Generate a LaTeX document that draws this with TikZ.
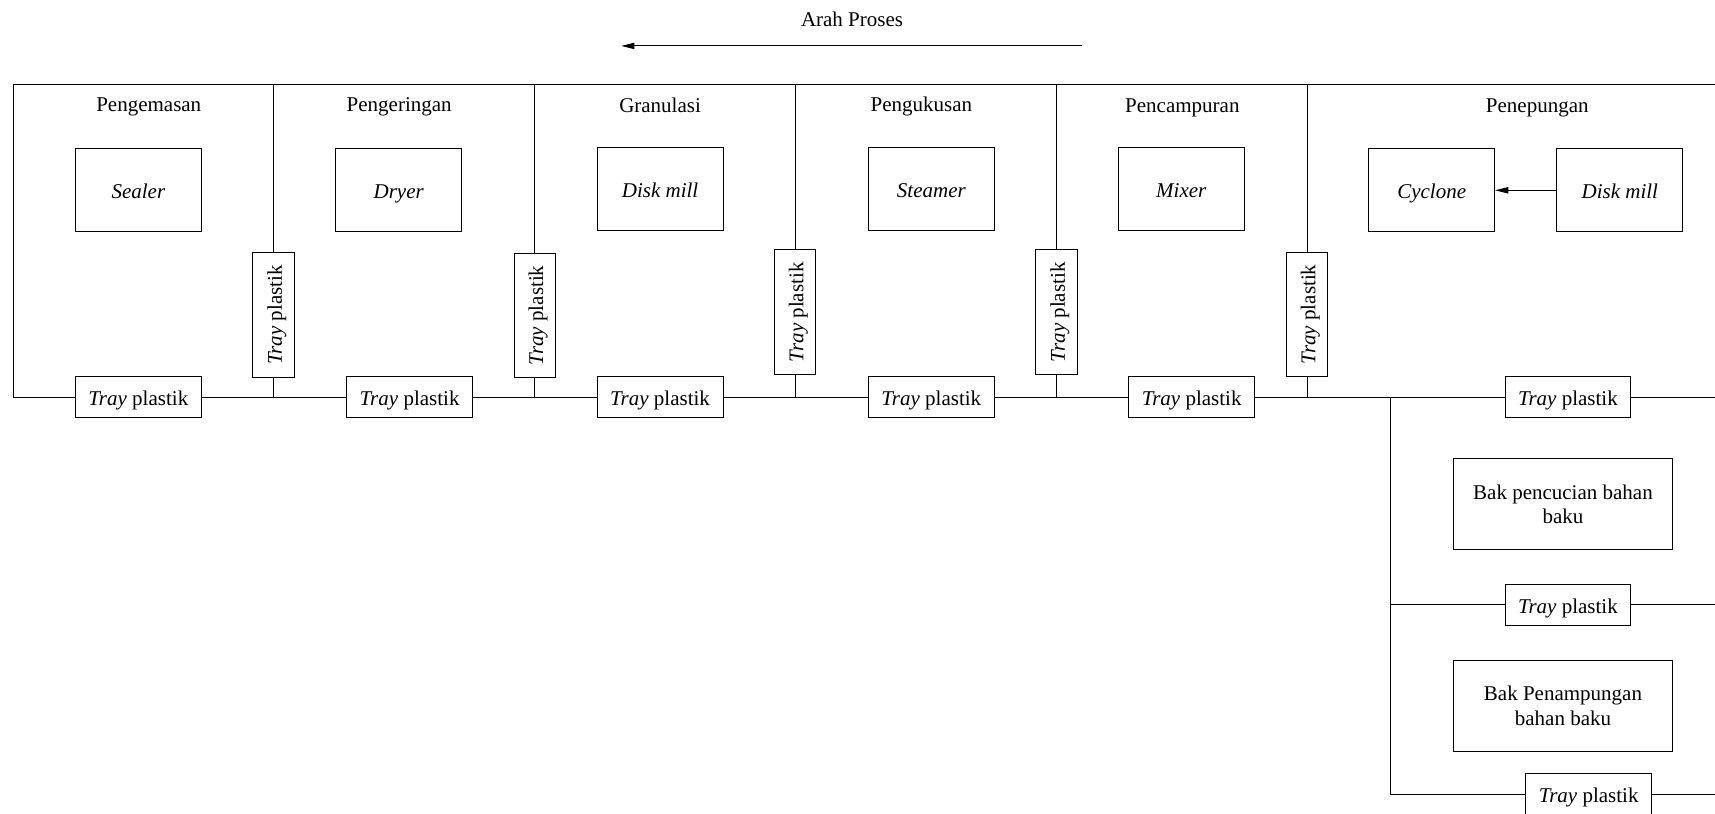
\documentclass[tikz,border=0pt]{standalone}
\usepackage{fontspec}
\setmainfont{Liberation Serif}
\usetikzlibrary{arrows.meta}

\tikzset{
  every node/.style={font=\fontsize{12pt}{14pt}\selectfont},
  equip/.style={draw,minimum width=71.9pt,minimum height=47.5pt,inner sep=0pt,text height=9.5pt,text depth=0pt,font=\fontsize{12pt}{14pt}\selectfont\itshape},
  traybox/.style={draw,minimum width=71.9pt,minimum height=23.75pt,inner sep=0pt,text height=9.5pt,text depth=0pt},
  traybar/.style={traybox,minimum width=71.25pt,rotate=90},
  bakbox/.style={draw,minimum width=125.6pt,minimum height=52pt,inner sep=0pt,align=center},
  roomlabel/.style={inner sep=0pt,anchor=base},
  tip/.style={-{Triangle[length=7.5pt,width=3.6pt]}}
}
\newcommand{\tray}{\textit{Tray} plastik}

\begin{document}
\begin{tikzpicture}[x=0.625pt,y=-0.625pt,line width=0.55pt]
\useasboundingbox (0,0) rectangle (1568,744);
\clip (0,0) rectangle (1568,744);

% arah proses
\node[inner sep=0pt] (arah) at (779,18) {Arah Proses};
\coordinate (arahR) at (989,42);
\coordinate (arahL) at (568,42);
\draw[tip] (arahR) -- (arahL);

% ruangan
\node[roomlabel] (lkemas) at (136,101.5) {Pengemasan};
\node[roomlabel] (lkering) at (365,101.5) {Pengeringan};
\node[roomlabel] (lgranul) at (603.5,102.5) {Granulasi};
\node[roomlabel] (lkukus) at (842.5,101.5) {Pengukusan};
\node[roomlabel] (lcampur) at (1081,102.5) {Pencampuran};
\node[roomlabel] (ltepung) at (1405.5,102.5) {Penepungan};

% alat
\node[equip] (sealer) at (126.5,174) {Sealer};
\node[equip] (dryer) at (364.5,174) {Dryer};
\node[equip] (dmillA) at (603.5,173) {Disk mill};
\node[equip] (steamer) at (851.5,173) {Steamer};
\node[equip] (mixer) at (1080,173) {Mixer};
\node[equip] (cyclone) at (1309,174) {Cyclone};
\node[equip] (dmillB) at (1481,174) {Disk mill};
\draw[tip] (dmillB) -- (cyclone);

\node[bakbox] (bakcuci) at (1429,461) {Bak pencucian bahan\\baku};
\node[bakbox] (baktampung) at (1429,645.5) {Bak Penampungan\\bahan baku};

% tray
\node[traybox] (tp1) at (126.5,363) {\tray};
\node[traybox] (tp2) at (374.5,363) {\tray};
\node[traybox] (tp3) at (603.5,363) {\tray};
\node[traybox] (tp4) at (851.5,363) {\tray};
\node[traybox] (tp5) at (1089.5,363) {\tray};
\node[traybox] (tp6) at (1433.5,363) {\tray};
\node[traybox] (tp7) at (1433.5,553) {\tray};
\node[traybox] (tp8) at (1452.5,726) {\tray};

\node[traybar] (vt1) at (250,288) {\tray};
\node[traybar] (vt2) at (489,288.5) {\tray};
\node[traybar] (vt3) at (727,285.5) {\tray};
\node[traybar] (vt4) at (966,285.5) {\tray};
\node[traybar] (vt5) at (1195,287.5) {\tray};

% dinding
\coordinate (kiriatas) at (12,77);
\coordinate (kananatas) at (1568,77);
\draw (kananatas) -- (kiriatas) |- (tp1.west);
\foreach \i/\x in {1/250,2/489,3/727,4/966,5/1195} {
  \coordinate (atas\i) at (\x,77);
  \coordinate (bawah\i) at (\x,363);
  \draw (atas\i) -- (vt\i) -- (bawah\i);
}

% jalur tray
\draw (tp1) -- (tp2) -- (tp3) -- (tp4) -- (tp5) -- (tp6);
\coordinate (kanan1) at (1568,363);
\coordinate (kanan2) at (1568,553);
\coordinate (kanan3) at (1568,726);
\coordinate (cabang) at (1271,363);
\coordinate (cabang2) at (1271,553);
\coordinate (cabang3) at (1271,726);
\draw (tp6) -- (kanan1);
\draw (cabang) -- (cabang3);
\draw (cabang2) -- (tp7) -- (kanan2);
\draw (cabang3) -- (tp8) -- (kanan3);
\end{tikzpicture}
\end{document}
